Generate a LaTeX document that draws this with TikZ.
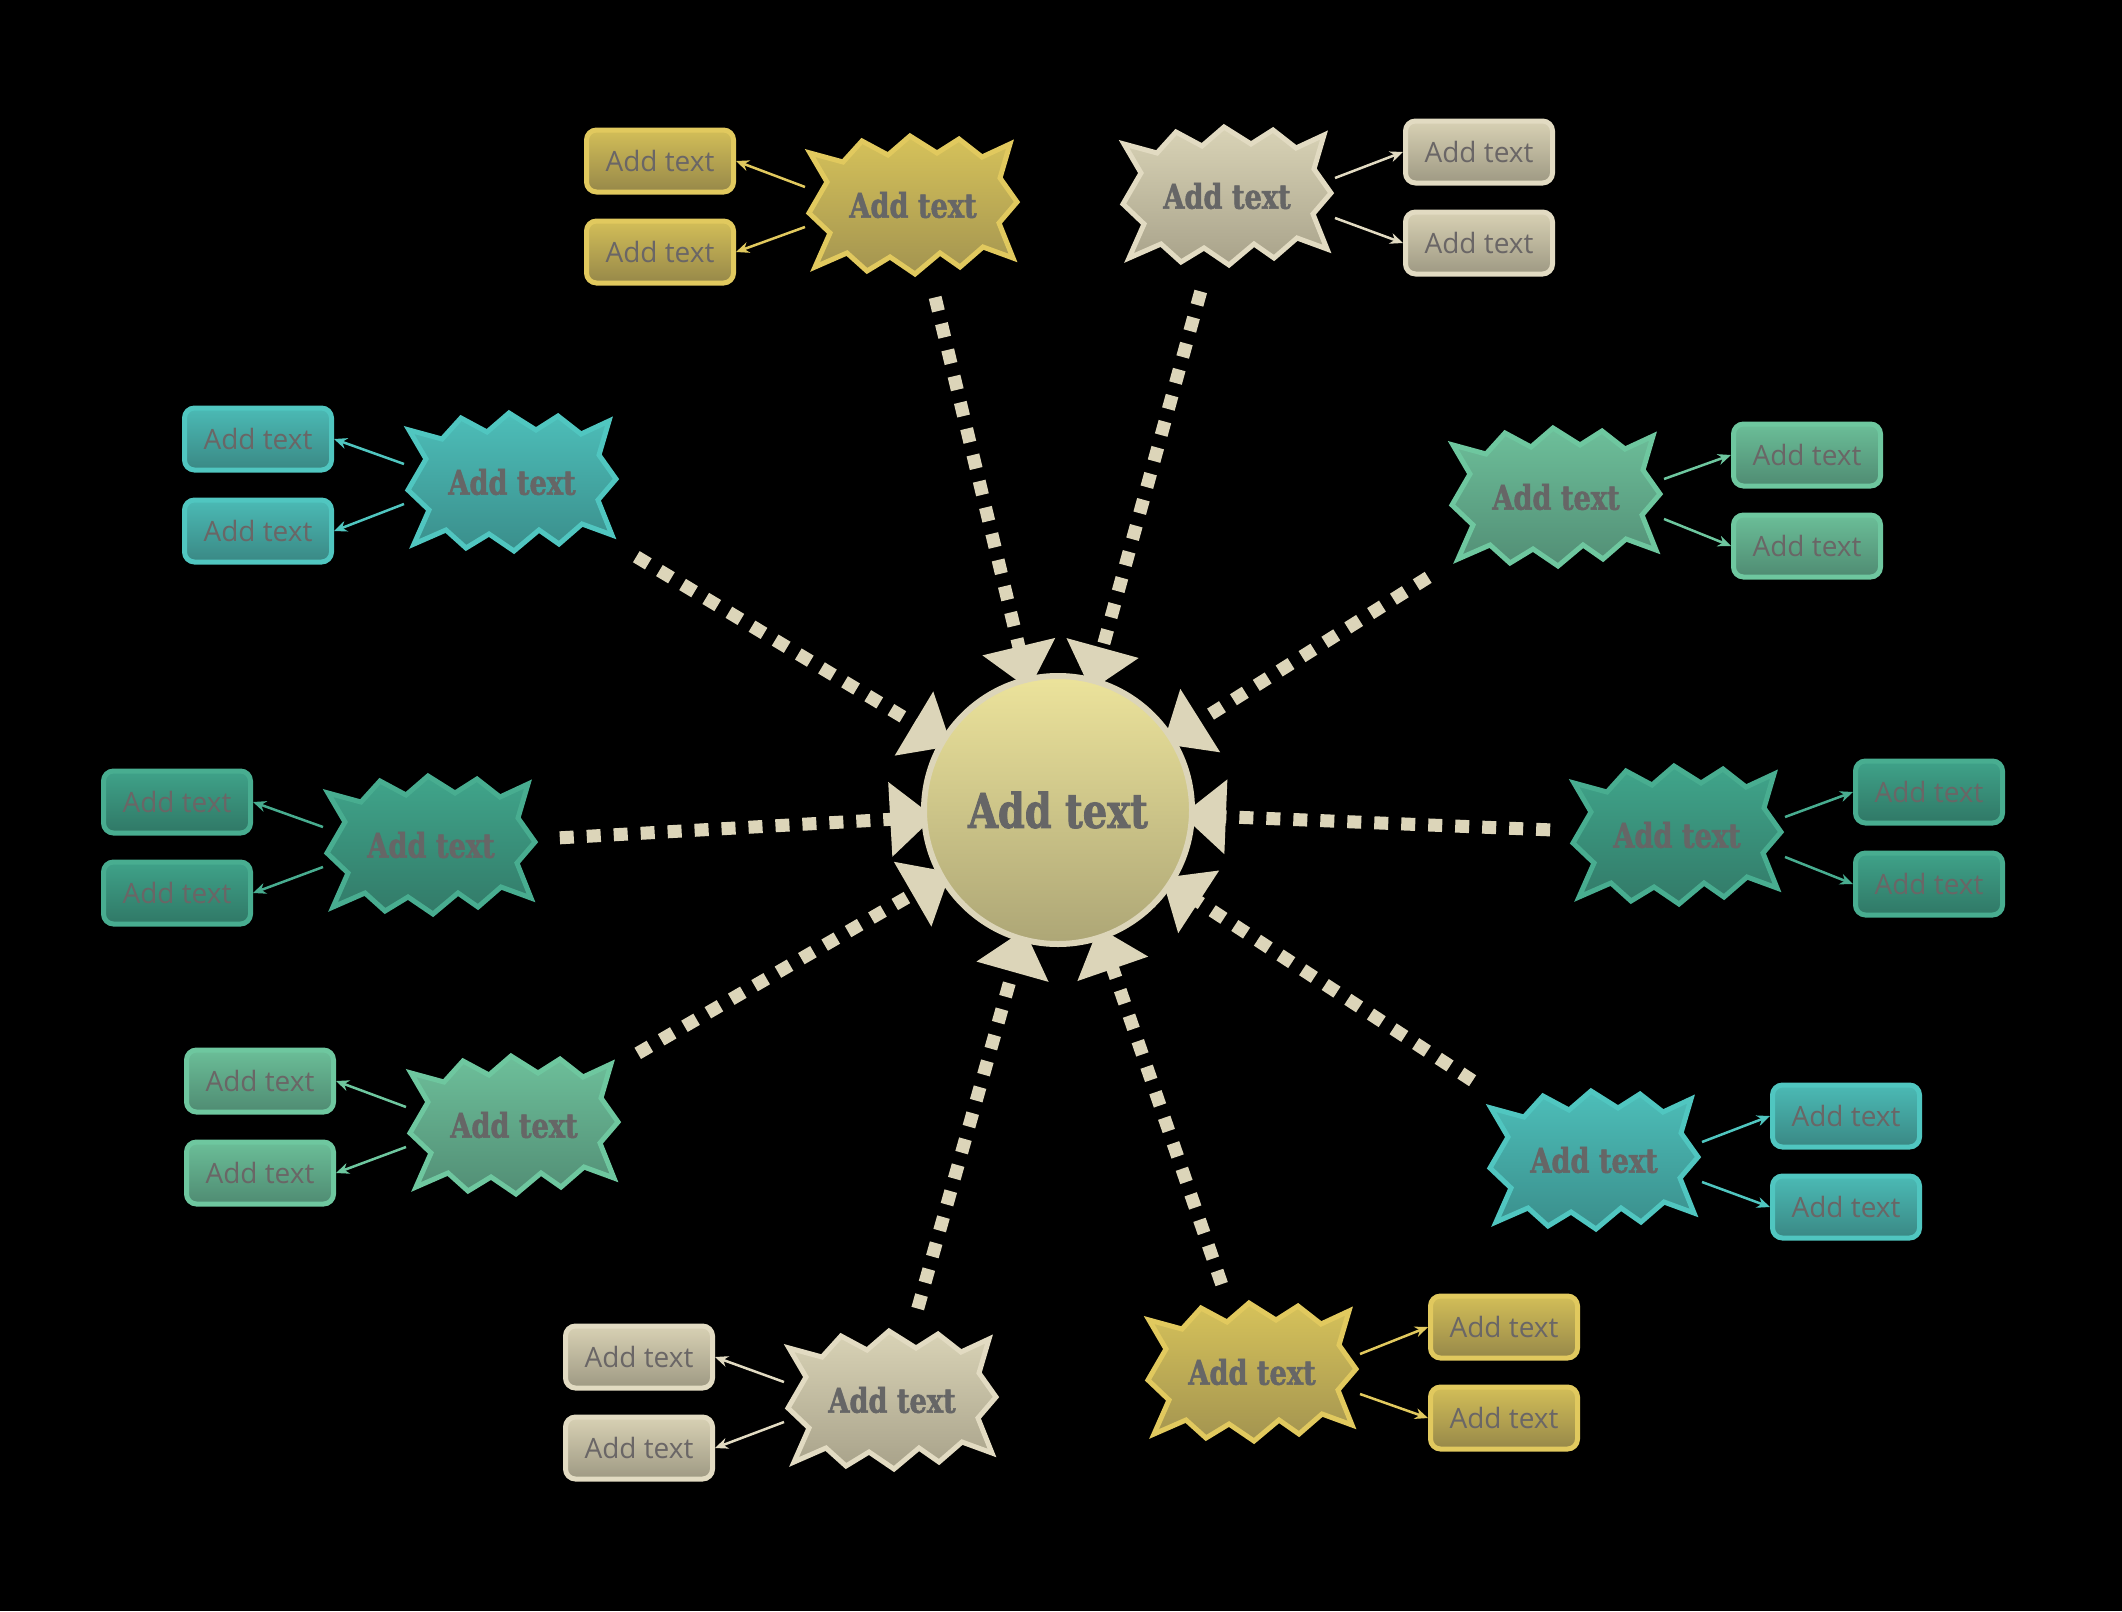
\documentclass[tikz,border=0pt]{standalone}
\usepackage{fontspec}
\usetikzlibrary{arrows.meta,calc}
\newfontfamily\burstfont[FakeStretch=0.8, BoldFeatures={FakeBold=1.6}]{DejaVu Serif}
\newfontfamily\boxfont{Open Sans}
\pgfdeclarelayer{bg}
\pgfdeclarelayer{back}
\pgfdeclarelayer{mid}
\pgfsetlayers{bg,back,mid,main}
% colour schemes: Y yellow, B beige, C cyan, G green, T dark teal
\definecolor{Ytop}{HTML}{D6C25A}\definecolor{Ybot}{HTML}{A39450}\definecolor{Ybd}{HTML}{E1C95E}
\definecolor{YBtop}{HTML}{D3BE58}\definecolor{YBbot}{HTML}{968849}
\definecolor{Btop}{HTML}{D9D3B6}\definecolor{Bbot}{HTML}{A8A28A}\definecolor{Bbd}{HTML}{E2DBC2}
\definecolor{BBtop}{HTML}{D8D1B4}\definecolor{BBbot}{HTML}{9E9983}
\definecolor{Ctop}{HTML}{4DBEB9}\definecolor{Cbot}{HTML}{3A8E8B}\definecolor{Cbd}{HTML}{50C6C0}
\definecolor{CBtop}{HTML}{4BBAB5}\definecolor{CBbot}{HTML}{3A8884}
\definecolor{Gtop}{HTML}{6DBF9A}\definecolor{Gbot}{HTML}{528E75}\definecolor{Gbd}{HTML}{6EC79F}
\definecolor{GBtop}{HTML}{6BBE98}\definecolor{GBbot}{HTML}{4F8B72}
\definecolor{Ttop}{HTML}{40A58B}\definecolor{Tbot}{HTML}{327A68}\definecolor{Tbd}{HTML}{48AD90}
\definecolor{TBtop}{HTML}{3FA289}\definecolor{TBbot}{HTML}{307866}
\definecolor{spokecol}{HTML}{DCD5B9}
\definecolor{hubtop}{HTML}{ECE39B}\definecolor{hubbot}{HTML}{ADA676}
\definecolor{txt}{HTML}{666666}
\definecolor{leaftxt}{HTML}{6A6666}

\newcommand\drawburst[2]{%
  \begin{pgfonlayer}{mid}
  \shadedraw[shift={(#1.center)}, line width=5pt, line join=miter, draw=#2bd,
    top color=#2top, bottom color=#2bot]
    (-103,-52) -- (-70,-43) -- (-51,-64) -- (-25,-50) -- (-3,-69) -- (24,-52)
    -- (46,-66) -- (69,-48) -- (97,-61) -- (87,-27) -- (104,-3) -- (86,18)
    -- (100,53) -- (70,42) -- (47,62) -- (27,48) -- (2,69) -- (-23,52)
    -- (-46,66) -- (-66,48) -- (-98,62) -- (-83,28) -- (-104,8) -- (-86,-23) -- cycle;
  \end{pgfonlayer}}

\tikzset{
  bursttext/.style={font={\burstfont\bfseries\fontsize{34}{40}\selectfont}, text=txt, inner sep=0pt},
  leaf/.style={rounded corners=10pt, line width=5pt, minimum width=147pt, minimum height=62pt,
    font={\boxfont\fontsize{28}{32}\selectfont}, text=leaftxt, inner sep=0pt},
  leafY/.style={leaf, draw=Ybd, top color=YBtop, bottom color=YBbot},
  leafB/.style={leaf, draw=Bbd, top color=BBtop, bottom color=BBbot},
  leafC/.style={leaf, draw=Cbd, top color=CBtop, bottom color=CBbot},
  leafG/.style={leaf, draw=Gbd, top color=GBtop, bottom color=GBbot},
  leafT/.style={leaf, draw=Tbd, top color=TBtop, bottom color=TBbot},
  spoke/.style={draw=spokecol, line width=13pt, dash pattern=on 14pt off 13pt,
    -{Triangle[width=72pt,length=44pt]}},
  twig/.style={line width=2.5pt, -{Stealth[length=13pt,width=11pt]}}
}

\begin{document}
\begin{tikzpicture}[x=1pt,y=-1pt]
\begin{pgfonlayer}{bg}
\fill[black] (0,0) rectangle (2122,1611);
\end{pgfonlayer}
\useasboundingbox (0,0) rectangle (2122,1611);

% hub
\node[circle, minimum size=268pt, line width=6pt, draw=spokecol, top color=hubtop, bottom color=hubbot,
  font={\burstfont\bfseries\fontsize{48}{56}\selectfont}, text=txt] (c) at (1058,810) {Add text};

% bursts
\node[bursttext] (b1) at (913,205) {Add text};
\node[bursttext] (b2) at (1227,196) {Add text};
\node[bursttext] (b3) at (512,482) {Add text};
\node[bursttext] (b4) at (1556,497) {Add text};
\node[bursttext] (b5) at (431,845) {Add text};
\node[bursttext] (b6) at (1677,835) {Add text};
\node[bursttext] (b7) at (514,1125) {Add text};
\node[bursttext] (b8) at (1594,1160) {Add text};
\node[bursttext] (b9) at (892,1400) {Add text};
\node[bursttext] (b10) at (1252,1372) {Add text};
\drawburst{b1}{Y}\drawburst{b2}{B}\drawburst{b3}{C}\drawburst{b4}{G}\drawburst{b5}{T}
\drawburst{b6}{T}\drawburst{b7}{G}\drawburst{b8}{C}\drawburst{b9}{B}\drawburst{b10}{Y}

% leaves
\node[leafY] (b1u) at (660,161) {Add text};
\node[leafY] (b1d) at (660,252) {Add text};
\node[leafB] (b2u) at (1479,152) {Add text};
\node[leafB] (b2d) at (1479,243) {Add text};
\node[leafC] (b3u) at (258,439) {Add text};
\node[leafC] (b3d) at (258,531) {Add text};
\node[leafG] (b4u) at (1807,455) {Add text};
\node[leafG] (b4d) at (1807,546) {Add text};
\node[leafT] (b5u) at (177,802) {Add text};
\node[leafT] (b5d) at (177,893) {Add text};
\node[leafT] (b6u) at (1929,792) {Add text};
\node[leafT] (b6d) at (1929,884) {Add text};
\node[leafG] (b7u) at (260,1081) {Add text};
\node[leafG] (b7d) at (260,1173) {Add text};
\node[leafC] (b8u) at (1846,1116) {Add text};
\node[leafC] (b8d) at (1846,1207) {Add text};
\node[leafB] (b9u) at (639,1357) {Add text};
\node[leafB] (b9d) at (639,1448) {Add text};
\node[leafY] (b10u) at (1504,1327) {Add text};
\node[leafY] (b10d) at (1504,1418) {Add text};

\begin{pgfonlayer}{back}
% spokes
\draw[spoke] ($(b1.center)!95pt!(c.center)$) -- ($(c.center)!124pt!(b1.center)$);
\draw[spoke] ($(b2.center)!99pt!(c.center)$) -- ($(c.center)!124pt!(b2.center)$);
\draw[spoke] ($(b3.center)!145pt!(c.center)$) -- ($(c.center)!124pt!(b3.center)$);
\draw[spoke] ($(b4.center)!151pt!(c.center)$) -- ($(c.center)!124pt!(b4.center)$);
\draw[spoke] ($(b5.center)!129pt!(c.center)$) -- ($(c.center)!124pt!(b5.center)$);
\draw[spoke] ($(b6.center)!127pt!(c.center)$) -- ($(c.center)!124pt!(b6.center)$);
\draw[spoke] ($(b7.center)!143pt!(c.center)$) -- ($(c.center)!124pt!(b7.center)$);
\draw[spoke] ($(b8.center)!145pt!(c.center)$) -- ($(c.center)!124pt!(b8.center)$);
\draw[spoke] ($(b9.center)!95pt!(c.center)$) -- ($(c.center)!124pt!(b9.center)$);
\draw[spoke] ($(b10.center)!93pt!(c.center)$) -- ($(c.center)!124pt!(b10.center)$);
% twigs: left groups
\draw[twig, draw=Ybd] ($(b1.center)+(-108,-18)$) -- (b1u.east);
\draw[twig, draw=Ybd] ($(b1.center)+(-108,22)$) -- (b1d.east);
\draw[twig, draw=Cbd] ($(b3.center)+(-108,-18)$) -- (b3u.east);
\draw[twig, draw=Cbd] ($(b3.center)+(-108,22)$) -- (b3d.east);
\draw[twig, draw=Tbd] ($(b5.center)+(-108,-18)$) -- (b5u.east);
\draw[twig, draw=Tbd] ($(b5.center)+(-108,22)$) -- (b5d.east);
\draw[twig, draw=Gbd] ($(b7.center)+(-108,-18)$) -- (b7u.east);
\draw[twig, draw=Gbd] ($(b7.center)+(-108,22)$) -- (b7d.east);
\draw[twig, draw=Bbd] ($(b9.center)+(-108,-18)$) -- (b9u.east);
\draw[twig, draw=Bbd] ($(b9.center)+(-108,22)$) -- (b9d.east);
% twigs: right groups
\draw[twig, draw=Bbd] ($(b2.center)+(108,-18)$) -- (b2u.west);
\draw[twig, draw=Bbd] ($(b2.center)+(108,22)$) -- (b2d.west);
\draw[twig, draw=Gbd] ($(b4.center)+(108,-18)$) -- (b4u.west);
\draw[twig, draw=Gbd] ($(b4.center)+(108,22)$) -- (b4d.west);
\draw[twig, draw=Tbd] ($(b6.center)+(108,-18)$) -- (b6u.west);
\draw[twig, draw=Tbd] ($(b6.center)+(108,22)$) -- (b6d.west);
\draw[twig, draw=Cbd] ($(b8.center)+(108,-18)$) -- (b8u.west);
\draw[twig, draw=Cbd] ($(b8.center)+(108,22)$) -- (b8d.west);
\draw[twig, draw=Ybd] ($(b10.center)+(108,-18)$) -- (b10u.west);
\draw[twig, draw=Ybd] ($(b10.center)+(108,22)$) -- (b10d.west);
\end{pgfonlayer}
\end{tikzpicture}
\end{document}
